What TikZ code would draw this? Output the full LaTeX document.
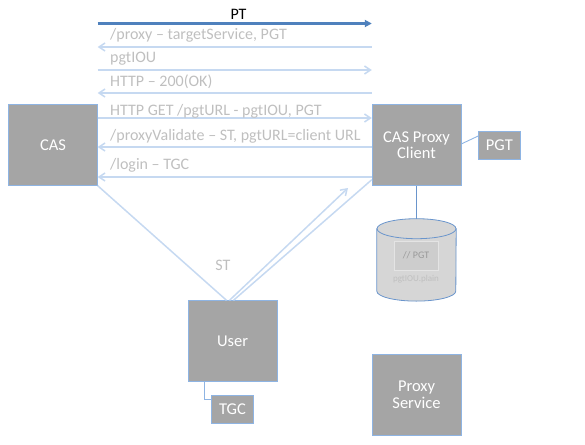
\documentclass[tikz,border=0pt]{standalone}
\usepackage{fontspec}
\setmainfont{Carlito}
\usetikzlibrary{arrows.meta,positioning,calc}
\definecolor{boxgray}{HTML}{A5A5A5}
\definecolor{boxedge}{HTML}{8EB4E3}
\definecolor{msgblue}{HTML}{C6D9F1}
\definecolor{lblgray}{HTML}{BFBFBF}
\definecolor{ptblue}{HTML}{4F81BD}
\definecolor{dbfill}{HTML}{D6D6D6}
\definecolor{dbedge}{HTML}{6A95CC}
\definecolor{memofill}{HTML}{CDCDCD}
\definecolor{memoedge}{HTML}{E4E4E4}
\newcommand{\fs}[1]{\fontsize{#1}{#1}\selectfont}

\begin{document}
\begin{tikzpicture}[
  x=1pt, y=-1pt,
  node distance=17pt,
  box/.style={draw=boxedge, fill=boxgray, text=white, font=\fs{16.5}, align=center, inner sep=0pt, minimum width=89pt, minimum height=81pt},
  tag/.style={box, minimum width=42pt, minimum height=28pt},
  msg/.style={draw=msgblue, line width=1.5pt, -{Straight Barb[length=6pt, width=8pt]}},
  link/.style={draw=msgblue, line width=1.5pt},
  lbl/.style={text=lblgray, font=\fs{16}, anchor=base west, inner sep=0pt},
  cyl/.style={draw=dbedge, fill=dbfill, line width=0.8pt}
]
  \useasboundingbox (0,0) rectangle (585,444);

  % boxes
  \node[box] (cas) at (53,145) {CAS};
  \node[box] (client) at (416.5,145) {CAS Proxy\\Client};
  \node[tag, right=17pt of client] (pgt) {PGT};
  \node[box] (user) at (232.5,341) {User};
  \node[tag, below=13pt of user] (tgc) {TGC};
  \node[box] (proxysvc) at (416.5,395) {Proxy\\Service};

  % pgtIOU store
  \node[minimum width=79pt, minimum height=82pt, inner sep=0pt, below=33pt of client] (db) {};
  \path[cyl] ($(db.north west)+(0,10)$) -- ($(db.south west)+(0,-10)$)
    arc[start angle=180, end angle=0, x radius=39.5, y radius=10]
    -- ($(db.north east)+(0,10)$) -- cycle;
  \draw[cyl] ($(db.north)+(0,10)$) ellipse[x radius=39.5, y radius=10];
  \node[draw=memoedge, fill=memofill, text=lblgray!80!black, font=\fs{10}, minimum width=44pt, minimum height=29pt, inner sep=0pt] (memo) at (416,255.5) {// PGT};
  \node[text=lblgray, font=\fs{9}, inner sep=0pt] (fname) at (416,279) {pgtIOU.plain};

  % message rows
  \coordinate (r1) at (0,23.5);
  \coordinate (r2) at (0,47);
  \coordinate (r3) at (0,70);
  \coordinate (r4) at (0,93);
  \coordinate (r5) at (0,118);
  \coordinate (r6) at (0,147);
  \coordinate (r7) at (0,177);

  \draw[ptblue, line width=2.3pt, -{Triangle[length=7pt, width=7pt]}] (cas.east |- r1) -- (client.west |- r1);
  \node[font=\fs{16}, anchor=base, inner sep=0pt] (ptl) at (238.5,20) {PT};
  \draw[msg] (client.west |- r2) -- (cas.east |- r2);
  \node[lbl] (l2) at (110,40) {/proxy – targetService, PGT};
  \draw[msg] (cas.east |- r3) -- (client.west |- r3);
  \node[lbl] (l3) at (110,63) {pgtIOU};
  \draw[msg] (client.west |- r4) -- (cas.east |- r4);
  \node[lbl] (l4) at (110,86) {HTTP – 200(OK)};
  \draw[msg] (cas.east |- r5) -- (client.west |- r5);
  \node[lbl] (l5) at (110,115) {HTTP GET /pgtURL - pgtIOU, PGT};
  \draw[msg] (client.west |- r6) -- (cas.east |- r6);
  \node[lbl] (l6) at (110,140) {/proxyValidate – ST, pgtURL=client URL};
  \draw[msg] (client.west |- r7) -- (cas.east |- r7);
  \node[lbl] (l7) at (110,169) {/login – TGC};

  % user legs
  \coordinate (sttip) at (348,188);
  \draw[link] (cas.south east) -- ([xshift=-6pt]user.north);
  \draw[msg] ([xshift=-3pt]user.north) -- (sttip);
  \draw[link] ([xshift=1pt]user.north) -- ([yshift=6pt]client.south west);
  \node[text=lblgray, font=\fs{16}, inner sep=0pt] (st) at (223,265) {ST};

  % side links
  \draw[boxedge, line width=0.9pt] ([yshift=1pt]client.east) -- ([yshift=9pt]pgt.west);
  \draw[boxedge, line width=0.9pt] ([xshift=-28pt]user.south) |- ([yshift=-5pt]tgc.north west);
  \draw[dbedge, line width=1.6pt] (client.south) -- (db.north);
\end{tikzpicture}
\end{document}
